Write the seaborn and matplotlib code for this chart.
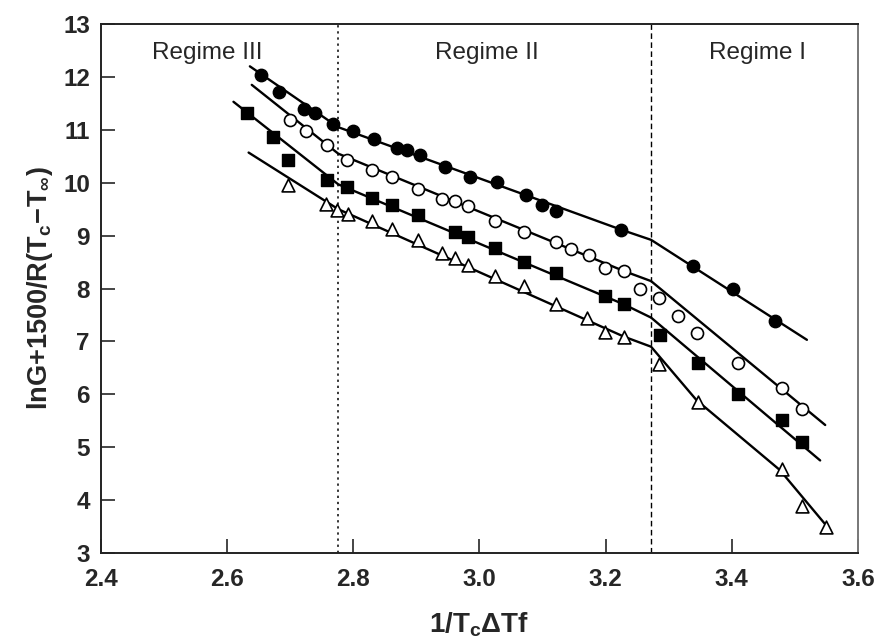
import numpy as np
import pandas as pd
import matplotlib
matplotlib.use("Agg")
import matplotlib.pyplot as plt
import seaborn as sns

# ---- measured points: x = 1/(Tc*dTf), y = lnG + 1500/R(Tc - Tinf) ----
filled_circle_x = [2.654, 2.682, 2.722, 2.739, 2.768, 2.799, 2.832, 2.869, 2.885, 2.906,
                   2.946, 2.985, 3.028, 3.073, 3.099, 3.122, 3.225, 3.339, 3.402, 3.468]
filled_circle_y = [12.04, 11.71, 11.39, 11.31, 11.11, 10.97, 10.83, 10.65, 10.61, 10.52,
                   10.30, 10.11, 10.01, 9.77, 9.58, 9.47, 9.11, 8.43, 7.99, 7.39]

open_circle_x = [2.700, 2.725, 2.758, 2.790, 2.829, 2.862, 2.902, 2.941, 2.961, 2.982,
                 3.025, 3.071, 3.121, 3.145, 3.173, 3.199, 3.229, 3.254, 3.285, 3.315,
                 3.344, 3.409, 3.480, 3.512]
open_circle_y = [11.19, 10.98, 10.71, 10.43, 10.24, 10.11, 9.89, 9.69, 9.66, 9.56,
                 9.28, 9.07, 8.87, 8.75, 8.63, 8.38, 8.33, 7.99, 7.83, 7.48,
                 7.16, 6.59, 6.12, 5.72]

square_x = [2.631, 2.672, 2.697, 2.758, 2.790, 2.829, 2.862, 2.902, 2.961, 2.982,
            3.025, 3.071, 3.121, 3.199, 3.229, 3.286, 3.347, 3.409, 3.480, 3.512]
square_y = [11.31, 10.86, 10.43, 10.05, 9.91, 9.72, 9.57, 9.39, 9.07, 8.98,
            8.76, 8.51, 8.29, 7.86, 7.70, 7.12, 6.60, 6.01, 5.51, 5.09]

triangle_x = [2.697, 2.757, 2.774, 2.791, 2.829, 2.861, 2.902, 2.941, 2.961, 2.982,
              3.025, 3.071, 3.121, 3.170, 3.199, 3.229, 3.285, 3.347, 3.480, 3.512, 3.550]
triangle_y = [9.96, 9.60, 9.48, 9.40, 9.28, 9.12, 8.92, 8.67, 8.58, 8.44,
              8.24, 8.04, 7.71, 7.44, 7.18, 7.09, 6.57, 5.86, 4.59, 3.89, 3.50]

# ---- fitted curves (break points at the regime transitions) ----
fit_filled_x = [2.636, 2.776, 3.225, 3.272, 3.519]
fit_filled_y = [12.20, 11.05, 9.11, 8.92, 7.03]
fit_open_x = [2.639, 2.776, 3.229, 3.272, 3.548]
fit_open_y = [11.85, 10.55, 8.33, 8.14, 5.42]
fit_square_x = [2.610, 2.776, 3.229, 3.272, 3.540]
fit_square_y = [11.53, 9.97, 7.70, 7.45, 4.75]
fit_triangle_x = [2.634, 2.776, 3.229, 3.272, 3.344, 3.476, 3.556]
fit_triangle_y = [10.57, 9.50, 7.09, 6.90, 5.89, 4.57, 3.43]

# regime boundaries and labels
boundary_x = [2.776, 3.272]
regime_labels = ["Regime III", "Regime II", "Regime I"]
regime_label_x = [2.568, 3.012, 3.441]
regime_label_y = 12.45

x_ticks = [2.4, 2.6, 2.8, 3.0, 3.2, 3.4, 3.6]
y_ticks = list(range(3, 14))

sns.set_style("ticks")
plt.rcParams["font.family"] = ["Liberation Sans", "DejaVu Sans"]
plt.rcParams["mathtext.fontset"] = "custom"
plt.rcParams["mathtext.rm"] = "Liberation Sans:bold"
plt.rcParams["mathtext.it"] = "Liberation Sans:bold"
plt.rcParams["mathtext.bf"] = "Liberation Sans:bold"

fig = plt.figure(figsize=(8.82, 6.42), dpi=100)
ax = fig.add_axes([0.1145, 0.1386, 0.8583, 0.824])

fits = [(fit_filled_x, fit_filled_y), (fit_open_x, fit_open_y),
        (fit_square_x, fit_square_y), (fit_triangle_x, fit_triangle_y)]
for fx, fy in fits:
    sns.lineplot(x=fx, y=fy, ax=ax, color="black", linewidth=1.7,
                 sort=False, estimator=None)

# boundary lines between regimes
ax.axvline(boundary_x[0], color="black", linewidth=1.1, linestyle=(0, (1.5, 2.5)))
ax.axvline(boundary_x[1], color="black", linewidth=1.0, linestyle=(0, (4, 2.5)))

sns.scatterplot(x=filled_circle_x, y=filled_circle_y, ax=ax, marker="o", s=80,
                color="black", edgecolor="black", linewidth=1, zorder=5)
sns.scatterplot(x=open_circle_x, y=open_circle_y, ax=ax, marker="o", s=75,
                color="white", edgecolor="black", linewidth=1.2, zorder=5)
sns.scatterplot(x=square_x, y=square_y, ax=ax, marker="s", s=85,
                color="black", edgecolor="black", linewidth=1, zorder=5)
sns.scatterplot(x=triangle_x, y=triangle_y, ax=ax, marker="^", s=85,
                color="white", edgecolor="black", linewidth=1.2, zorder=5)

for label, lx in zip(regime_labels, regime_label_x):
    ax.text(lx, regime_label_y, label, ha="center", va="center", fontsize=17.5)

ax.set_xlim(2.4, 3.6)
ax.set_ylim(3, 13)
ax.set_xticks(x_ticks)
ax.set_xticklabels([f"{v:.1f}" for v in x_ticks])
ax.set_yticks(y_ticks)
ax.set_yticklabels([str(v) for v in y_ticks])
ax.tick_params(direction="in", length=10, width=1.2, labelsize=17.5)
ax.tick_params(axis="x", pad=11)
ax.tick_params(axis="y", pad=8)
for lab in ax.get_xticklabels() + ax.get_yticklabels():
    lab.set_fontweight("bold")
for side in ["left", "bottom", "top", "right"]:
    ax.spines[side].set_visible(True)
    ax.spines[side].set_linewidth(1.4)
    ax.spines[side].set_color("#222222")
ax.spines["right"].set_color("#777777")

ax.set_xlabel(r"$\mathrm{1/T_c\Delta Tf}$", fontsize=20, labelpad=14)
ax.set_ylabel(r"$\mathrm{lnG{+}1500/R(T_c\!-\!T_\infty)}$", fontsize=19.5, labelpad=6)

fig.savefig("out.png", dpi=100)
